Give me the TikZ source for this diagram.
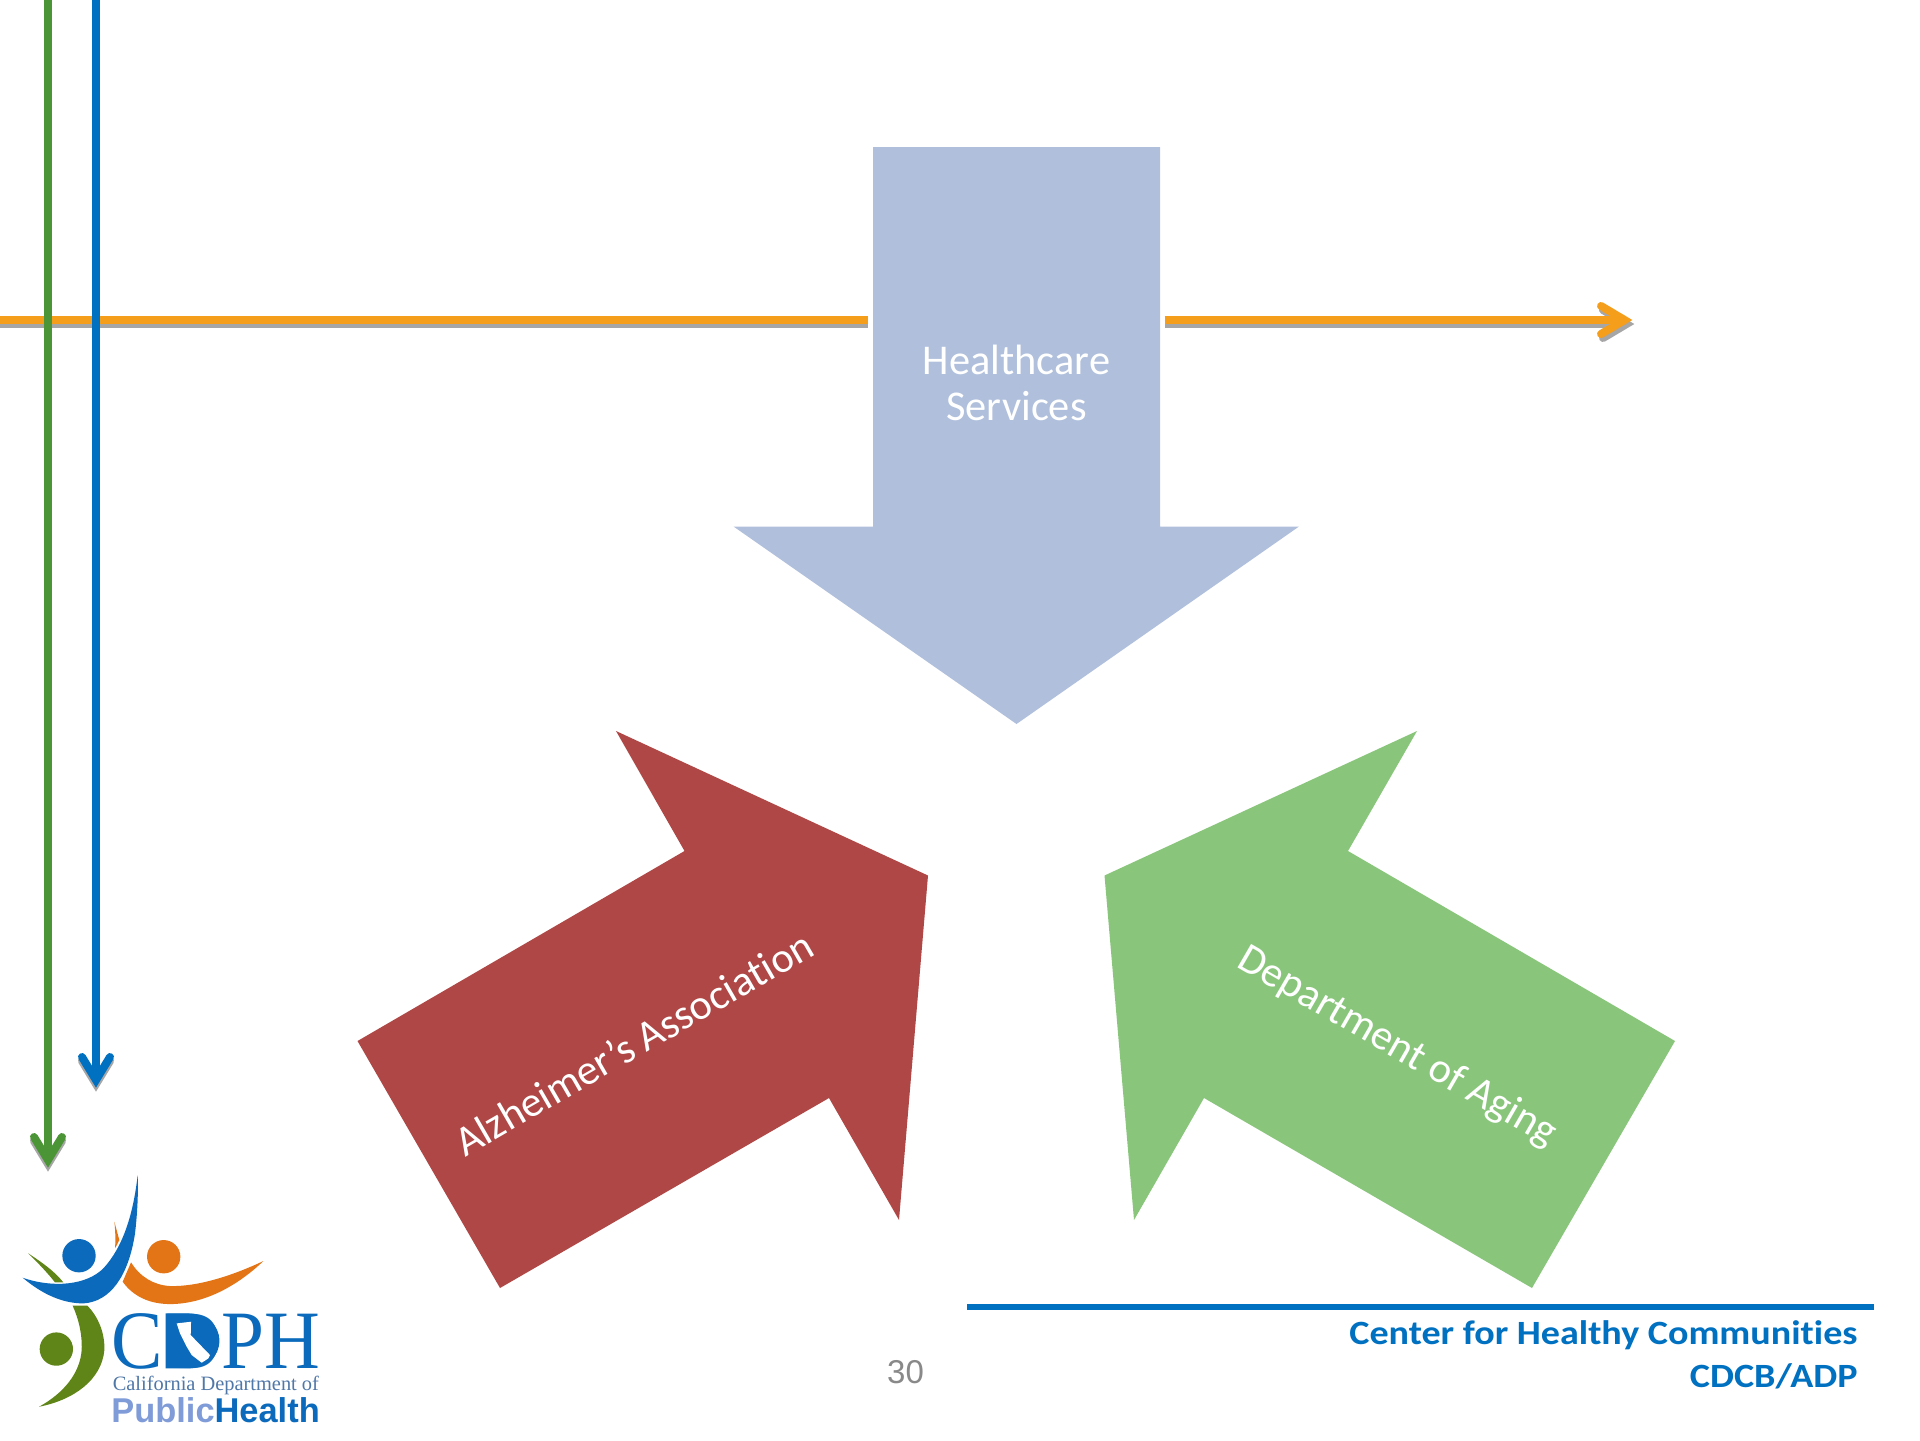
\documentclass[tikz,border=0pt]{standalone}
\usepackage{fontspec}
\setmainfont[Ligatures=NoCommon]{Carlito}
\newfontfamily\arialf{Liberation Sans}
\newfontfamily\timesf{Liberation Serif}
\newfontfamily\cdphf[FakeStretch=0.93]{Liberation Serif}
\newfontfamily\footf[FakeStretch=1.12,Ligatures=NoCommon]{Carlito}
\definecolor{hcblue}{HTML}{B0C0DC}
\definecolor{alzred}{HTML}{AE4745}
\definecolor{aging}{HTML}{89C67B}
\definecolor{lineorange}{HTML}{F49E1C}
\definecolor{linegreen}{HTML}{4C9536}
\definecolor{lineblue}{HTML}{0070C0}
\definecolor{shadowgray}{HTML}{A6A6A6}
\definecolor{logoblue}{HTML}{0B6ABB}
\definecolor{logoorange}{HTML}{E37517}
\definecolor{logoolive}{HTML}{5F8518}
\definecolor{logolight}{HTML}{7F9BD8}
\definecolor{logotext}{HTML}{4F77A8}
\definecolor{pagegray}{HTML}{898989}
\tikzset{
  x=0.5pt,y=-0.5pt,
  arrowlabel/.style={text=white,font=\fontsize{21.2}{23.3}\selectfont,align=center,inner sep=0pt},
  flowline/.style={line width=4pt,line cap=butt},
  flowhead/.style={line width=4pt,line cap=round,line join=miter,miter limit=10},
  footer/.style={anchor=base east,inner sep=0pt,text=lineblue,font=\footf\bfseries\fontsize{17}{20}\selectfont},
  cdphtext/.style={anchor=base west,inner sep=0pt,text=logoblue,font=\cdphf\fontsize{41.5}{41.5}\selectfont},
}
\begin{document}
\begin{tikzpicture}
\useasboundingbox (0,0) rectangle (1920,1440);
\fill[white] (0,0) rectangle (1920,1440);
% big arrows
\fill[hcblue] (873,147)--(1160,147)--(1160,526.5)--(1299,526.5)--(1016.5,724)--(733.5,526.5)--(873,526.5)--cycle;
\fill[alzred] (616,731)--(928,875.5)--(899,1220)--(829,1098)--(500,1288)--(357.5,1041)--(684.5,851)--cycle;
\fill[aging] (1417,731)--(1104.5,875.5)--(1134,1220)--(1204,1098)--(1532,1288)--(1675,1041)--(1348,851)--cycle;
\node[arrowlabel] (hc) at (1016.5,383) {Healthcare\\Services};
\node[arrowlabel,rotate=30] (alz) at (633.5,1043) {Alzheimer’s Association};
\node[arrowlabel,rotate=-30] (doa) at (1397,1047) {Department of Aging};
% orange lines
\coordinate (oL0) at (0,320); \coordinate (oL1) at (868,320);
\coordinate (oR0) at (1164.5,320); \coordinate (oR1) at (1624.5,320);
\coordinate (oBa) at (1601,306); \coordinate (oBb) at (1601,334);
\draw[flowline,shadowgray] ([yshift=-2pt]oL0)--([yshift=-2pt]oL1);
\draw[flowline,shadowgray] ([yshift=-2pt]oR0)--([yshift=-2pt]oR1);
\draw[flowhead,shadowgray] ([shift={(1pt,-2pt)}]oBa)--([shift={(1pt,-2pt)}]oR1)--([shift={(1pt,-2pt)}]oBb);
\draw[flowline,lineorange] (oL0)--(oL1);
\draw[flowline,lineorange] (oR0)--(oR1);
\draw[flowhead,lineorange] (oBa)--(oR1)--(oBb);
% green line
\coordinate (g0) at (48,0); \coordinate (g1) at (48,1160);
\coordinate (gBa) at (34,1137); \coordinate (gBb) at (62,1137);
\draw[flowhead,shadowgray] ([yshift=-2pt]gBa)--([yshift=-2pt]g1)--([yshift=-2pt]gBb);
\draw[flowline,linegreen] (g0)--(g1);
\draw[flowhead,linegreen] (gBa)--(g1)--(gBb);
% blue line
\coordinate (b0) at (96,0); \coordinate (b1) at (96,1080);
\coordinate (bBa) at (82,1057); \coordinate (bBb) at (110,1057);
\draw[flowhead,shadowgray] ([yshift=-2pt]bBa)--([yshift=-2pt]b1)--([yshift=-2pt]bBb);
\draw[flowline,lineblue] (b0)--(b1);
\draw[flowhead,lineblue] (bBa)--(b1)--(bBb);
% footer
\coordinate (r0) at (967,1307); \coordinate (r1) at (1874,1307);
\draw[lineblue,line width=3.2pt] (r0)--(r1);
\node[footer] (f1) at (1858,1344) {Center for Healthy Communities};
\node[footer] (f2) at (1858,1387) {CDCB/ADP};
\node[anchor=base,inner sep=0pt,text=pagegray,font=\arialf\fontsize{16.5}{19}\selectfont] (pg) at (905.5,1383) {30};
% logo (coordinates in 3x crop of the logo area)
\begin{scope}[x=0.1667pt,y=-0.1667pt,yshift=-550pt]
\fill[logoolive] (85,460) .. controls (130,490) and (165,515) .. (190,547) -- (165,547) .. controls (140,515) and (110,485) .. (85,460) -- cycle;
\fill[logoorange] (343,365) .. controls (350,390) and (355,410) .. (358,420) -- (345,445) .. controls (347,420) and (346,390) .. (343,365) -- cycle;
\fill[logoorange] (790,483) .. controls (690,530) and (590,560) .. (510,558) .. controls (460,555) and (420,530) .. (393,487) -- (368,545) .. controls (400,590) and (450,612) .. (510,612) .. controls (620,612) and (720,550) .. (790,483) -- cycle;
\fill[logoblue] (413,225) .. controls (400,340) and (370,440) .. (310,505) .. controls (260,555) and (160,565) .. (68,533) .. controls (130,585) and (190,610) .. (250,610) .. controls (330,605) and (385,530) .. (405,400) .. controls (412,340) and (415,280) .. (413,225) -- cycle;
\fill[logoolive] (218,617) -- (262,617) .. controls (295,650) and (315,700) .. (313,750) .. controls (305,840) and (220,900) .. (117,920) .. controls (190,880) and (240,820) .. (245,750) .. controls (247,700) and (235,655) .. (218,617) -- cycle;
\fill[logoblue] (237,467) circle[radius=50];
\fill[logoorange] (491,470) circle[radius=50];
\fill[logoolive] (169,747) circle[radius=50];
\fill[logoblue] (497,640) -- (560,640) .. controls (620,640) and (658,675) .. (658,722) .. controls (658,770) and (620,805) .. (560,805) -- (497,805) -- cycle;
\node[cdphtext] (lc) at (333,805) {C};
\node[cdphtext] (ld) at (495,805) {D};
\fill[white] (530,670) -- (573,665) -- (572,705) -- (630,765) -- (625,775) -- (605,788) -- (575,765) -- (560,740) -- (540,700) -- cycle;
\node[cdphtext] (lph) at (662,805) {PH};
\node[anchor=base west,inner sep=0pt,text=logotext,font=\timesf\fontsize{10.2}{12}\selectfont] (lcal) at (337,872) {California Department of};
\node[anchor=base west,inner sep=0pt,font=\arialf\bfseries\fontsize{17.2}{20}\selectfont] (lpub) at (333,968) {\textcolor{logolight}{Public}\textcolor{logoblue}{Health}};
\end{scope}
\end{tikzpicture}
\end{document}
